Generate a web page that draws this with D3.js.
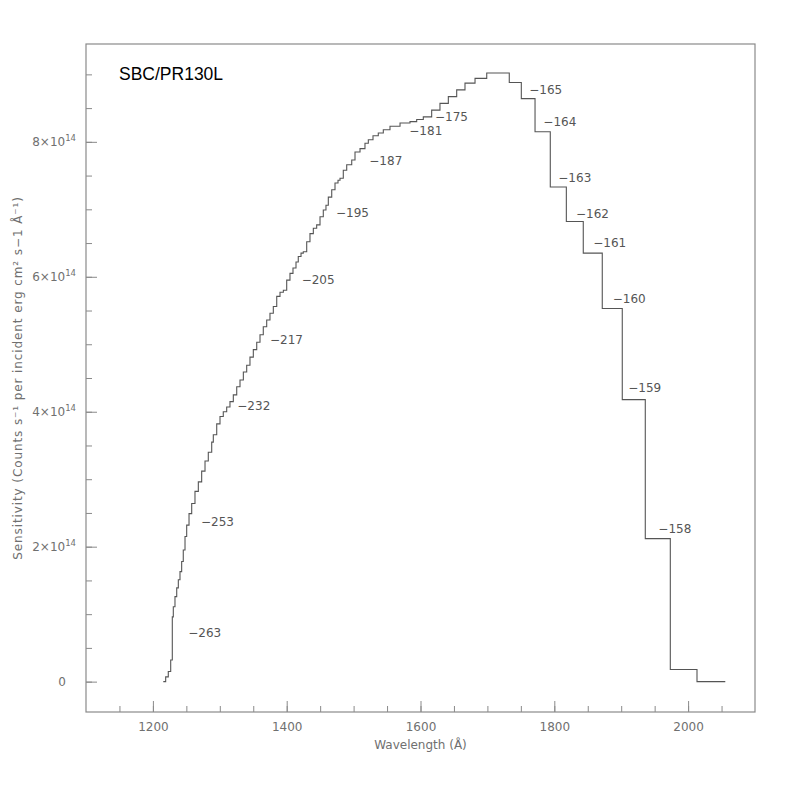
<!DOCTYPE html>
<meta charset="utf-8">
<style>
body { margin: 0; background: #fff; }
svg { display: block; }
.frame { fill: none; stroke: #8a8a8a; stroke-width: 1.2px; }
.axis path { display: none; }
.axis line { stroke: #8a8a8a; stroke-width: 1px; }
.axis text { fill: #707070; font: 12px "DejaVu Sans", sans-serif; }
.curve { fill: none; stroke: #555; stroke-width: 1.1px; }
.lbl { fill: #555; font: 12px "DejaVu Sans", sans-serif; }
.atitle { fill: #707070; font: 12px "DejaVu Sans", sans-serif; }
.title { fill: #000; font: 17.5px "Liberation Sans", sans-serif; }
</style>
<body>
<svg width="797" height="797"></svg>
<script src="https://cdnjs.cloudflare.com/ajax/libs/d3/7.8.5/d3.min.js"></script>
<script>

// step bins: start wavelength (A) and sensitivity (units of 1e14)
var binStart = [1215.5,1219.1,1223.0,1226.6,1229.0,1230.5,1233.0,1235.6,1238.0,1240.5,
  1243.0,1245.4,1248.0,1250.5,1254.0,1258.0,1262.9,1267.9,1272.9,1277.9,
  1282.8,1287.9,1290.3,1295.4,1300.3,1305.2,1310.3,1315.2,1320.2,1325.3,
  1330.2,1335.2,1340.2,1345.1,1350.1,1355.2,1360.1,1365.0,1370.1,1375.0,
  1380.0,1385.1,1390.0,1395.0,1400.0,1404.9,1409.4,1413.9,1417.3,1421.4,
  1424.8,1429.9,1434.8,1439.8,1444.8,1449.8,1454.7,1458.7,1462.2,1467.3,
  1472.2,1476.7,1479.7,1484.6,1489.7,1497.2,1502.1,1509.6,1517.0,1522.0,
  1529.0,1536.9,1544.4,1554.4,1569.4,1584.3,1594.3,1604.2,1616.7,1629.1,
  1641.6,1654.1,1666.5,1681.5,1699.0,1732.7,1750.7,1771.2,1794.0,1818.0,
  1843.3,1871.7,1901.6,1936.0,1973.4,2013.3];
var sensitivity = [0.00,0.07,0.15,0.32,0.96,1.11,1.26,1.39,1.51,1.63,
  1.78,1.95,2.15,2.32,2.49,2.64,2.82,2.96,3.12,3.27,
  3.40,3.55,3.66,3.82,3.93,4.00,4.07,4.15,4.25,4.37,
  4.47,4.59,4.69,4.81,4.92,5.03,5.14,5.26,5.36,5.46,
  5.56,5.71,5.77,5.80,5.95,6.05,6.13,6.22,6.30,6.35,
  6.37,6.52,6.64,6.72,6.77,6.89,6.99,7.06,7.18,7.29,
  7.39,7.43,7.46,7.58,7.66,7.73,7.85,7.90,7.98,8.03,
  8.09,8.13,8.18,8.23,8.28,8.30,8.33,8.37,8.47,8.57,
  8.67,8.77,8.87,8.94,9.02,8.88,8.64,8.15,7.33,6.82,
  6.35,5.53,4.18,2.12,0.18,0.00];
var binEnd = 2055.6;

// pixel-offset annotations
var labelText = ["−263","−253","−232","−217","−205","−195","−187","−181","−175",
  "−165","−164","−163","−162","−161","−160","−159","−158"];
var labelWave = [1252.9,1271.9,1326.2,1375.0,1422.4,1473.7,1523.5,1583.3,1621.7,
  1762.6,1783.6,1806.0,1832.4,1858.3,1887.3,1910.6,1955.5];
var labelSens = [0.73,2.37,4.09,5.06,5.96,6.95,7.72,8.17,8.37,
  8.77,8.29,7.46,6.94,6.50,5.67,4.35,2.26];

var xMajor = [1200,1400,1600,1800,2000];
var xMinor = d3.range(1150,2100,50);
var yMajor = [0,2,4,6,8];
var yMinor = d3.range(0,9.01,0.5);

var L = 86, R = 755, T = 44, B = 712;
var svg = d3.select("svg");

var x = d3.scaleLinear().domain([1100,2100]).range([L,R]);
var y = d3.scaleLinear().domain([-0.45,9.45]).range([B,T]);

// minor ticks
svg.append("g").attr("class","axis").attr("transform","translate(0,"+B+")")
  .call(d3.axisBottom(x).tickValues(xMinor).tickSize(-6).tickFormat(""));
svg.append("g").attr("class","axis").attr("transform","translate("+L+",0)")
  .call(d3.axisLeft(y).tickValues(yMinor).tickSize(-6).tickFormat(""));

// major ticks
svg.append("g").attr("class","axis").attr("transform","translate(0,"+B+")")
  .call(d3.axisBottom(x).tickValues(xMajor).tickSize(-11).tickPadding(10).tickFormat(d3.format("d")));

var yAx = svg.append("g").attr("class","axis").attr("transform","translate("+L+",0)")
  .call(d3.axisLeft(y).tickValues(yMajor).tickSize(-11).tickPadding(10).tickFormat(""));
yAx.selectAll(".tick text").each(function(d) {
  var t = d3.select(this);
  if (d === 0) { t.text("0").attr("dx", -10); return; }
  t.append("tspan").text(d + "×10");
  t.append("tspan").attr("dy", -5).attr("font-size", 8.5).text("14");
});

svg.append("rect").attr("class","frame")
  .attr("x",L).attr("y",T).attr("width",R-L).attr("height",B-T);

// step curve
var pts = binStart.map(function(w,i){ return [w, sensitivity[i]]; });
pts.push([binEnd, sensitivity[sensitivity.length-1]]);
var line = d3.line().x(function(d){return x(d[0]);}).y(function(d){return y(d[1]);})
  .curve(d3.curveStepAfter);
svg.append("path").datum(pts).attr("class","curve").attr("d",line);

svg.selectAll("text.lbl").data(labelText).enter().append("text")
  .attr("class","lbl")
  .attr("x",function(d,i){return x(labelWave[i]);})
  .attr("y",function(d,i){return y(labelSens[i]);})
  .attr("dy","0.35em")
  .text(function(d){return d;});

svg.append("text").attr("class","title").attr("x",119).attr("y",80).text("SBC/PR130L");

svg.append("text").attr("class","atitle")
  .attr("x",(L+R)/2).attr("y",749).attr("text-anchor","middle")
  .text("Wavelength (Å)");

svg.append("text").attr("class","atitle")
  .attr("transform","translate(22,"+((T+B)/2)+") rotate(-90)")
  .attr("text-anchor","middle")
  .style("letter-spacing","0.9px")
  .text("Sensitivity (Counts s⁻¹ per incident erg cm² s−1 Å⁻¹)");

</script>
